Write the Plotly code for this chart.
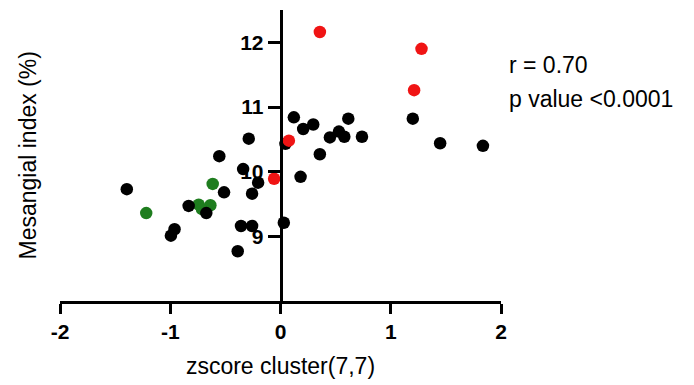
import plotly.graph_objects as go

# Black points
black_x = [1.20, 1.448, 1.836, 0.121, 0.206, 0.297, 0.615, 0.448, 0.53, 0.579, 0.739,
           0.357, 0.182, 0.045, -1.394, -0.555, -0.288, -0.339, -0.203, -0.512, -0.258,
           -0.833, -0.673, -0.961, -0.994, -0.358, -0.258, -0.388, 0.03]
black_y = [10.82, 10.44, 10.40, 10.84, 10.66, 10.73, 10.82, 10.53, 10.62, 10.54, 10.54,
           10.27, 9.92, 10.43, 9.73, 10.24, 10.51, 10.04, 9.83, 9.68, 9.66,
           9.47, 9.36, 9.11, 9.01, 9.16, 9.16, 8.77, 9.21]

# Red points
red_x = [0.357, 1.279, 1.212, 0.076, -0.058]
red_y = [12.16, 11.90, 11.26, 10.48, 9.89]

# Green points
green_x = [-1.218, -0.742, -0.712, -0.636, -0.615]
green_y = [9.36, 9.49, 9.42, 9.48, 9.81]

x_ticks = [-2, -1, 0, 1, 2]
y_ticks = [9, 10, 11, 12]

FONT = "Liberation Sans, Arial, sans-serif"

fig = go.Figure()
for xs, ys, col in [(green_x, green_y, "#1e7d1e"), (black_x, black_y, "#000000"), (red_x, red_y, "#f01414")]:
    fig.add_trace(go.Scatter(x=xs, y=ys, mode="markers",
                             marker=dict(size=12.5, color=col, line=dict(width=0)),
                             showlegend=False, hoverinfo="skip"))

fig.update_layout(
    width=694, height=385,
    margin=dict(l=60, r=193, t=10, b=82),
    plot_bgcolor="white", paper_bgcolor="white",
    font=dict(family=FONT, color="black"),
    xaxis=dict(range=[-2, 2], tickvals=x_ticks, ticktext=[str(v) for v in x_ticks],
               showgrid=False, zeroline=False, showline=True, linecolor="black", linewidth=2.5,
               ticks="outside", ticklen=10, tickwidth=2.5, tickcolor="black",
               tickfont=dict(size=21, family=FONT, weight="bold", color="black"),
               title=dict(text="zscore cluster(7,7)", font=dict(size=23, family=FONT), standoff=16)),
    yaxis=dict(range=[8, 12.5], tickvals=y_ticks, ticktext=[str(v) for v in y_ticks],
               anchor="free", position=0.5, side="left",
               showgrid=False, zeroline=False, showline=True, linecolor="black", linewidth=2.5,
               ticks="outside", ticklen=12, tickwidth=2.5, tickcolor="black",
               tickfont=dict(size=21, family=FONT, weight="bold", color="black")),
    annotations=[
        dict(text="Mesangial index (%)", xref="paper", yref="paper", x=0, y=0.5,
             xshift=-33, xanchor="center", yanchor="middle", textangle=-90,
             showarrow=False, font=dict(size=23, family=FONT, color="black")),
        dict(text="r = 0.70", xref="paper", yref="paper", x=1, y=0.812, xshift=6,
             xanchor="left", yanchor="middle", showarrow=False,
             font=dict(size=23, family=FONT, color="black")),
        dict(text="p value <0.0001", xref="paper", yref="paper", x=1, y=0.693, xshift=6,
             xanchor="left", yanchor="middle", showarrow=False,
             font=dict(size=23, family=FONT, color="black")),
    ],
)

fig.write_html("out.html")
